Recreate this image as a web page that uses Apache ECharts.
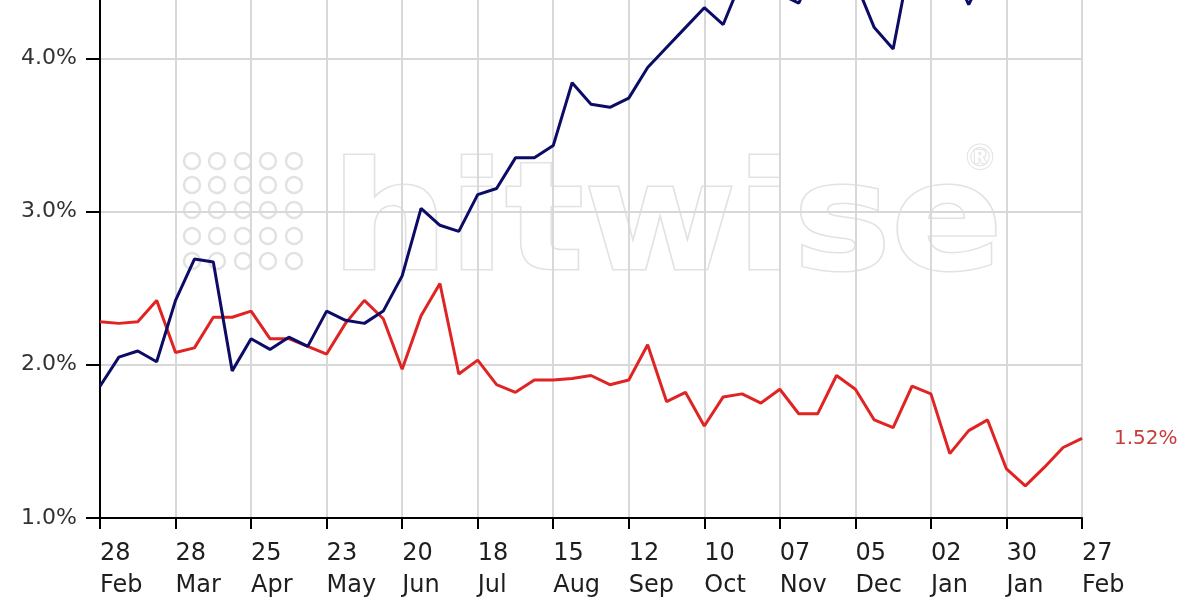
<!DOCTYPE html>
<html>
<head>
<meta charset="utf-8">
<script src="https://cdn.jsdelivr.net/npm/echarts@6/dist/echarts.min.js"></script>
<style>
html,body{margin:0;padding:0;background:#fff;overflow:hidden;width:1200px;height:600px;position:relative;}
#chart{position:absolute;left:0;top:-96px;width:1200px;height:696px;}
</style>
</head>
<body>
<div id="chart"></div>
<script>
// Weekly categories (28 Feb .. 27 Feb)
var categories = [
 '28\nFeb','07\nMar','14\nMar','21\nMar','28\nMar','04\nApr','11\nApr','18\nApr','25\nApr',
 '02\nMay','09\nMay','16\nMay','23\nMay','30\nMay','06\nJun','13\nJun','20\nJun','27\nJun',
 '04\nJul','11\nJul','18\nJul','25\nJul','01\nAug','08\nAug','15\nAug','22\nAug','29\nAug',
 '05\nSep','12\nSep','19\nSep','26\nSep','03\nOct','10\nOct','17\nOct','24\nOct','31\nOct',
 '07\nNov','14\nNov','21\nNov','28\nNov','05\nDec','12\nDec','19\nDec','26\nDec','02\nJan',
 '09\nJan','16\nJan','23\nJan','30\nJan','06\nFeb','13\nFeb','20\nFeb','27\nFeb'
];
// Blue series (share of visits, %)
var blueValues = [
 1.86,2.05,2.09,2.02,2.42,2.69,2.67,1.96,2.17,2.10,
 2.18,2.12,2.35,2.29,2.27,2.35,2.58,3.02,2.91,2.87,
 3.11,3.15,3.35,3.35,3.43,3.84,3.70,3.68,3.74,3.94,
 4.07,4.20,4.33,4.22,4.52,4.55,4.42,4.36,4.62,4.60,
 4.50,4.20,4.06,4.70,4.65,4.62,4.35,4.60,4.62,4.66,
 4.63,4.68,4.66
];
// Red series (share of visits, %)
var redValues = [
 2.28,2.27,2.28,2.42,2.08,2.11,2.31,2.31,2.35,2.17,
 2.17,2.12,2.07,2.27,2.42,2.30,1.97,2.32,2.53,1.94,
 2.03,1.87,1.82,1.90,1.90,1.91,1.93,1.87,1.90,2.13,
 1.76,1.82,1.60,1.79,1.81,1.75,1.84,1.68,1.68,1.93,
 1.84,1.64,1.59,1.86,1.81,1.42,1.57,1.64,1.32,1.21,
 1.33,1.46,1.52
];
var yMin = 1, yMax = 5, yStep = 1;

var OFF = 96; // container is shifted up by this many pixels
var chart = echarts.init(document.getElementById('chart'));

// watermark
var wmElements = [];
var cx = [192, 217, 243, 268, 294], cy = [161, 185, 210, 236, 261];
for (var r = 0; r < cy.length; r++) {
  for (var c = 0; c < cx.length; c++) {
    wmElements.push({
      type: 'circle', z: -10, silent: true,
      shape: {cx: cx[c], cy: cy[r] + OFF, r: 8},
      style: {fill: 'none', stroke: '#e2e2e2', lineWidth: 2.5}
    });
  }
}
wmElements.push({
  type: 'text', z: -10, silent: true, x: 331, y: 155 + OFF, scaleX: 1.1,
  style: {text: 'hitwise', font: 'bold 150px "DejaVu Sans"', fill: '#ffffff',
          stroke: '#e2e2e2', lineWidth: 3}
});
wmElements.push({
  type: 'text', z: -10, silent: true, x: 963, y: 143 + OFF,
  style: {text: '\u00AE', font: 'bold 34px "DejaVu Sans"', fill: '#ffffff',
          stroke: '#e2e2e2', lineWidth: 2}
});

var option = {
  animation: false,
  backgroundColor: '#ffffff',
  graphic: {elements: wmElements},
  grid: {left: 100, right: 118, top: 1, bottom: 82, containLabel: false, outerBoundsMode: 'none'},
  xAxis: {
    type: 'category',
    data: categories,
    boundaryGap: false,
    axisLine: {show: true, lineStyle: {color: '#000', width: 2}},
    axisTick: {show: true, interval: 3, length: 11, lineStyle: {color: '#000', width: 2}},
    axisLabel: {
      interval: 3, align: 'left', margin: 20,
      fontFamily: 'DejaVu Sans', fontSize: 24, lineHeight: 32, color: '#1e1e1e'
    },
    splitLine: {show: true, interval: 3, lineStyle: {color: '#d8d8d8', width: 2}}
  },
  yAxis: {
    type: 'value',
    min: yMin, max: yMax, interval: yStep,
    axisLine: {show: true, lineStyle: {color: '#000', width: 2}},
    axisTick: {show: true, length: 14, lineStyle: {color: '#000', width: 2}},
    axisLabel: {
      margin: 23, fontFamily: 'DejaVu Sans', fontSize: 22, color: '#333',
      formatter: function (v) { return v.toFixed(1) + '%'; }
    },
    splitLine: {show: true, lineStyle: {color: '#d8d8d8', width: 2}}
  },
  series: [
    {
      type: 'line', name: 'red', data: redValues, symbol: 'none', clip: true,
      lineStyle: {color: '#e02424', width: 3}, itemStyle: {color: '#e02424'},
      endLabel: {
        show: true, distance: 32, fontFamily: 'DejaVu Sans', fontSize: 20, color: '#c43c3c',
        formatter: function (p) { return p.value.toFixed(2) + '%'; }
      },
      z: 3
    },
    {
      type: 'line', name: 'blue', data: blueValues, symbol: 'none', clip: true,
      lineStyle: {color: '#0c0c66', width: 3}, itemStyle: {color: '#0c0c66'},
      z: 4
    }
  ]
};
chart.setOption(option);
</script>
</body>
</html>
